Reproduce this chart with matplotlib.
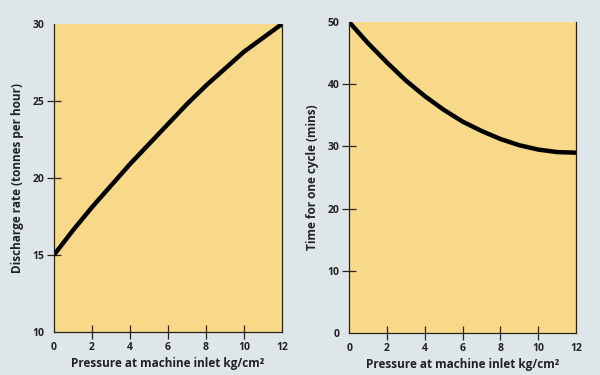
import matplotlib.pyplot as plt

# datos
pressure = [0, 1, 2, 3, 4, 5, 6, 7, 8, 9, 10, 11, 12]
discharge = [15, 16.6, 18.1, 19.5, 20.9, 22.2, 23.5, 24.8, 26.0, 27.1, 28.2, 29.1, 30]
cycle_time = [50, 46.6, 43.5, 40.6, 38.1, 35.9, 34.0, 32.5, 31.2, 30.2, 29.5, 29.1, 29.0]

x_ticks = [0, 2, 4, 6, 8, 10, 12]
y_ticks_left = [10, 15, 20, 25, 30]
y_ticks_right = [0, 10, 20, 30, 40, 50]

bg = '#dfe6e9'
face = '#f8d98a'
dark = '#2a2418'

plt.rcParams['font.family'] = ['Open Sans', 'DejaVu Sans']
plt.rcParams['font.weight'] = 'bold'

fig = plt.figure(figsize=(6, 3.75), dpi=100, facecolor=bg)
ax1 = fig.add_axes([0.09, 0.115, 0.38, 0.821])
ax2 = fig.add_axes([0.582, 0.112, 0.378, 0.829])


def estilo(ax, yticks, ylabel):
    ax.set_facecolor(face)
    ax.set_xlim(0, 12)
    ax.set_ylim(yticks[0], yticks[-1])
    ax.set_xticks(x_ticks)
    ax.set_yticks(yticks)
    ax.tick_params(direction='inout', length=10, width=0.9, color=dark,
                   labelsize=7.5, labelcolor='#222222', pad=2)
    for sp in ax.spines.values():
        sp.set_color(dark)
        sp.set_linewidth(0.9)
    ax.spines['top'].set_visible(False)
    # sin marca en los extremos
    for t in (ax.xaxis.get_major_ticks()[0], ax.xaxis.get_major_ticks()[-1],
              ax.yaxis.get_major_ticks()[0], ax.yaxis.get_major_ticks()[-1]):
        t.tick1line.set_visible(False)
    ax.set_xlabel('Pressure at machine inlet kg/cm²', fontsize=8.5,
                  fontweight='bold', color='#222222', labelpad=3)
    ax.set_ylabel(ylabel, fontsize=8.5, fontweight='bold', color='#222222', labelpad=6)


ax1.plot(pressure, discharge, color='black', lw=3.2, solid_capstyle='butt')
estilo(ax1, y_ticks_left, 'Discharge rate (tonnes per hour)')

ax2.plot(pressure, cycle_time, color='black', lw=3.2, solid_capstyle='butt')
estilo(ax2, y_ticks_right, 'Time for one cycle (mins)')

fig.savefig('out.png', dpi=100, facecolor=bg)
